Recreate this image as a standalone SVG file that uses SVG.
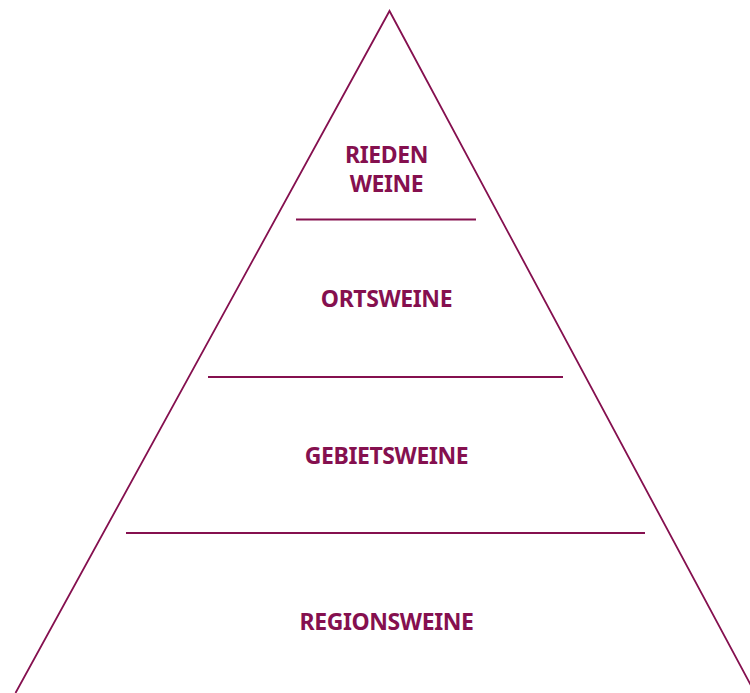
<svg xmlns="http://www.w3.org/2000/svg" width="750" height="693" viewBox="0 0 750 693">
<style>
.ln{stroke:#85104f;fill:none}
.t{font-family:"Noto Sans","Open Sans","Liberation Sans",sans-serif;font-weight:bold;font-size:23px;letter-spacing:-0.4px;fill:#85104f;text-anchor:middle}
</style>
<rect width="750" height="693" fill="#ffffff"/>
<g id="connectors">
<polyline class="ln" stroke-width="1.8" points="15.5,693 389.5,11 755,693"/>
<line class="ln" stroke-width="2" x1="296" y1="219.5" x2="476" y2="219.5"/>
<line class="ln" stroke-width="2" x1="208" y1="377" x2="563" y2="377"/>
<line class="ln" stroke-width="2" x1="126" y1="533" x2="645" y2="533"/>
</g>
<g id="rieden"><text class="t" x="386.5" y="163">RIEDEN</text><text class="t" x="386.5" y="192">WEINE</text></g>
<g id="orts"><text class="t" x="386.5" y="307">ORTSWEINE</text></g>
<g id="gebiets"><text class="t" x="386.5" y="464">GEBIETSWEINE</text></g>
<g id="regions"><text class="t" x="386.5" y="630">REGIONSWEINE</text></g>
</svg>
